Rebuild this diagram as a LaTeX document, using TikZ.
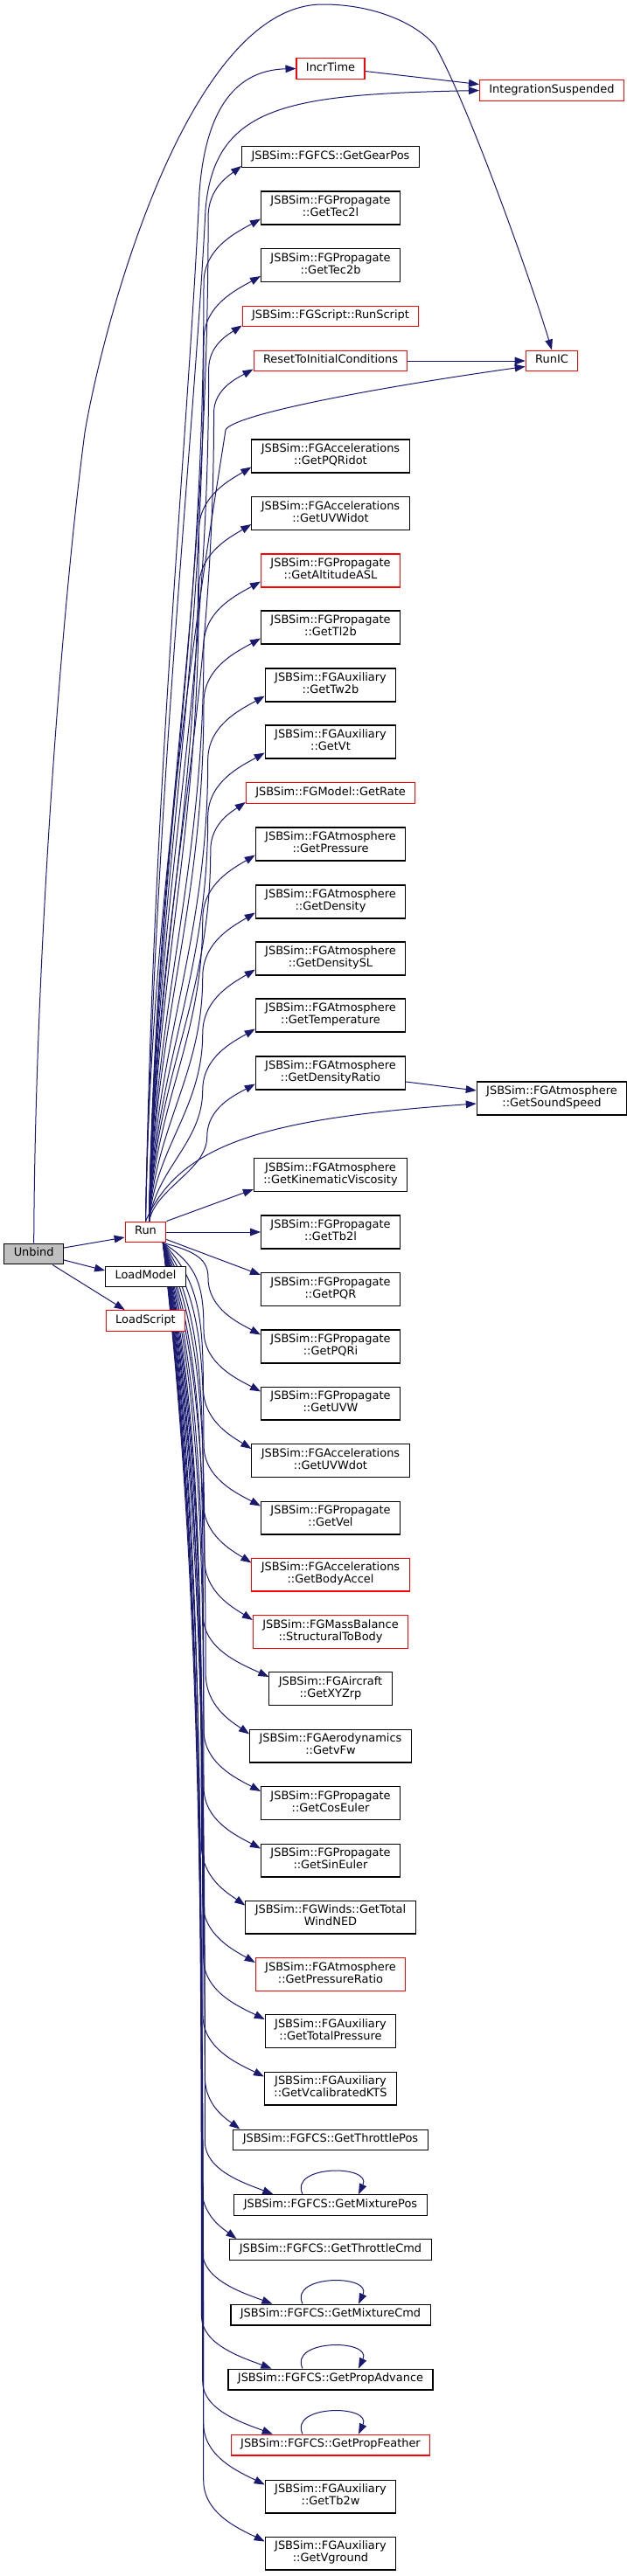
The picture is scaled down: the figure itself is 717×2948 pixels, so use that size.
\documentclass[tikz,border=0pt]{standalone}
\usepackage{fontspec}
\setmainfont{DejaVu Sans}
\usetikzlibrary{arrows.meta,calc}
\definecolor{edgeblue}{HTML}{191970}
\newcommand{\fnfont}{\fontsize{9.7}{10.7}\selectfont}
\pgfdeclarelayer{edges}
\pgfsetlayers{edges,main}

\begin{document}
\begin{tikzpicture}[x=0.75pt,y=-0.75pt,line width=0.8pt,>=Stealth]
\tikzset{fn/.style={draw=black,fill=white,align=center,inner xsep=8.2pt,inner ysep=3.6pt,
                    font=\fnfont,execute at begin node=\strut,execute at end node=\strut},
         fnred/.style={fn,draw=red},
         fncur/.style={fn,fill=gray!50},
         call/.style={draw=edgeblue,line width=0.75pt,-{Triangle[length=9pt,width=6.5pt]}}}
\useasboundingbox (0,0) rectangle (717,2948);
% ---------- caller and its direct callees on the left ----------
\node[fncur] (unbind) at (38.7,1435) {Unbind};
\node[fnred] (run) at (166.5,1410) {Run};
\node[fn] (loadModel) at (166.5,1461) {LoadModel};
\node[fnred] (loadScript) at (166.5,1511.5) {LoadScript};
% ---------- right column ----------
\node[fnred] (intSusp) at (631,103.5) {IntegrationSuspended};
\node[fnred] (runIC) at (631,413) {RunIC};
\node[fn] (soundSpeed) at (631,1257) {JSBSim::FGAtmosphere\\::GetSoundSpeed};
% ---------- middle column, above Run ----------
\node[fnred] (incrTime) at (378,78.5) {IncrTime};
\node[fn] (gearPos) at (378,179.5) {JSBSim::FGFCS::GetGearPos};
\node[fn] (tecTwoL) at (378,238) {JSBSim::FGPropagate\\::GetTec2l};
\node[fn] (tecTwoB) at (378,303.5) {JSBSim::FGPropagate\\::GetTec2b};
\node[fnred] (runScript) at (378,362) {JSBSim::FGScript::RunScript};
\node[fnred] (reset) at (378,413) {ResetToInitialConditions};
\node[fn] (pqrIdot) at (378,522) {JSBSim::FGAccelerations\\::GetPQRidot};
\node[fn] (uvwIdot) at (378,587.5) {JSBSim::FGAccelerations\\::GetUVWidot};
\node[fnred] (altASL) at (378,653) {JSBSim::FGPropagate\\::GetAltitudeASL};
\node[fn] (tlTwoB) at (378,718) {JSBSim::FGPropagate\\::GetTl2b};
\node[fn] (twTwoB) at (378,784) {JSBSim::FGAuxiliary\\::GetTw2b};
\node[fn] (vt) at (378,849) {JSBSim::FGAuxiliary\\::GetVt};
\node[fnred] (rate) at (378,907.5) {JSBSim::FGModel::GetRate};
\node[fn] (pressure) at (378,966) {JSBSim::FGAtmosphere\\::GetPressure};
\node[fn] (density) at (378,1032) {JSBSim::FGAtmosphere\\::GetDensity};
\node[fn] (densitySL) at (378,1097) {JSBSim::FGAtmosphere\\::GetDensitySL};
\node[fn] (temperature) at (378,1162) {JSBSim::FGAtmosphere\\::GetTemperature};
\node[fn] (densityRatio) at (378,1228) {JSBSim::FGAtmosphere\\::GetDensityRatio};
\node[fn] (kinVisc) at (378,1344.5) {JSBSim::FGAtmosphere\\::GetKinematicViscosity};
% ---------- middle column, level with and below Run ----------
\node[fn] (tbTwoL) at (378,1410) {JSBSim::FGPropagate\\::GetTb2l};
\node[fn] (pqr) at (378,1475.5) {JSBSim::FGPropagate\\::GetPQR};
\node[fn] (pqri) at (378,1541) {JSBSim::FGPropagate\\::GetPQRi};
\node[fn] (uvw) at (378,1606) {JSBSim::FGPropagate\\::GetUVW};
\node[fn] (uvwdot) at (378,1671.5) {JSBSim::FGAccelerations\\::GetUVWdot};
\node[fn] (vel) at (378,1737) {JSBSim::FGPropagate\\::GetVel};
\node[fnred] (bodyAccel) at (378,1802) {JSBSim::FGAccelerations\\::GetBodyAccel};
\node[fnred] (structToBody) at (378,1867.5) {JSBSim::FGMassBalance\\::StructuralToBody};
\node[fn] (xyzrp) at (378,1932.5) {JSBSim::FGAircraft\\::GetXYZrp};
\node[fn] (vfw) at (378,1998) {JSBSim::FGAerodynamics\\::GetvFw};
\node[fn] (cosEuler) at (378,2063.5) {JSBSim::FGPropagate\\::GetCosEuler};
\node[fn] (sinEuler) at (378,2129) {JSBSim::FGPropagate\\::GetSinEuler};
\node[fn] (totalWind) at (378,2194) {JSBSim::FGWinds::GetTotal\\WindNED};
\node[fnred] (pressureRatio) at (378,2259.5) {JSBSim::FGAtmosphere\\::GetPressureRatio};
\node[fn] (totalPressure) at (378,2324.5) {JSBSim::FGAuxiliary\\::GetTotalPressure};
\node[fn] (vcasKts) at (378,2390) {JSBSim::FGAuxiliary\\::GetVcalibratedKTS};
\node[fn] (throttlePos) at (378,2449) {JSBSim::FGFCS::GetThrottlePos};
\node[fn] (mixturePos) at (378,2523.5) {JSBSim::FGFCS::GetMixturePos};
\node[fn] (throttleCmd) at (378,2574.5) {JSBSim::FGFCS::GetThrottleCmd};
\node[fn] (mixtureCmd) at (378,2649) {JSBSim::FGFCS::GetMixtureCmd};
\node[fn] (propAdvance) at (378,2723) {JSBSim::FGFCS::GetPropAdvance};
\node[fnred] (propFeather) at (378,2798) {JSBSim::FGFCS::GetPropFeather};
\node[fn] (tbTwoW) at (378,2857) {JSBSim::FGAuxiliary\\::GetTb2w};
\node[fn] (vground) at (378,2922) {JSBSim::FGAuxiliary\\::GetVground};
\begin{pgfonlayer}{edges}
% ---------- calls made by Unbind ----------
\draw[call] ($(unbind.east)+(0,-7)$) -- ($(run.west)+(0,6)$);
\draw[call] ($(unbind.east)+(0,7)$) -- ($(loadModel.west)+(0,-7)$);
\draw[call] ($(unbind.south east)+(-13,0)$) -- ($(loadScript.north west)+(22,0)$);
\draw[call] (unbind.north) .. controls (40,1100) and (70,700) .. (97,495)
  .. controls (118,370) and (215,5) .. (369,5)
  .. controls (430,5) and (478,28) .. (498,53)
  .. controls (540,130) and (610,330) .. (runIC.north);
% ---------- calls from Run up the column ----------
\foreach \nd/\ey/\mx/\my in {gearPos/-2/-38/58,tecTwoL/-7/-65/73,tecTwoB/-7/-65/73,
    runScript/-2/-38/50,reset/-3/-45/50,pqrIdot/-7/-60/73,uvwIdot/-7/-60/73,
    altASL/-7/-65/73,tlTwoB/-7/-65/73,twTwoB/-7/-65/73,vt/-7/-65/73,rate/-2/-40/55,
    pressure/-7/-60/73,density/-7/-60/73,densitySL/-7/-60/73,temperature/-4/-60/70,
    densityRatio/-7/-55/60}
  \draw[call] let \p1=($(run.north)+(4,0)$), \p2=($(\nd.south west)+(0,\ey)$),
      \p3=($(\p2)+(\mx,\my)$) in
    (\p1) .. controls ({\x1+6pt},{0.6*(\y1)+0.4*(\y3)}) and (\x3,{0.4*(\y1)+0.6*(\y3)}) .. (\p3)
    .. controls (\x3,{0.45*(\y3)+0.55*(\y2)}) and ({0.6*(\x2)+0.4*(\x3)},{0.8*(\y2)+0.2*(\y3)}) .. (\p2);
\draw[call] (run.north) .. controls (175,900) and (215,500) .. (228,220)
  .. controls (236,110) and (280,80) .. (incrTime.west);
\draw[call] (run.north) .. controls (178,900) and (222,500) .. (235,240)
  .. controls (245,120) and (330,108) .. (intSusp.west);
\draw[call] (run.north) .. controls (172,1000) and (248,560) .. (258,492)
  .. controls (266,475) and (420,445) .. ($(runIC.south west)+(0,-6)$);
\draw[call] (run.north) .. controls (205,1310) and (300,1280) .. ($(soundSpeed.west)+(0,6)$);
\draw[call] (run.north east) -- ($(kinVisc.south west)+(0,-3)$);
\draw[call] (run.east) -- (tbTwoL.west);
\draw[call] ($(run.south east)+(0,-4)$) -- ($(pqr.north west)+(0,3)$);
% ---------- calls from Run down the column ----------
\foreach \nd/\ex/\ey/\mx/\my in {pqri/0/6/-60/-65,uvw/0/6/-65/-70,uvwdot/0/6/-55/-70,
    vel/0/6/-65/-70,bodyAccel/0/6/-55/-70,structToBody/0/6/-55/-70,xyzrp/0/6/-75/-70,
    vfw/0/6/-50/-70,cosEuler/0/6/-65/-70,sinEuler/0/6/-65/-70,totalWind/0/6/-50/-70,
    pressureRatio/0/6/-60/-70,totalPressure/0/6/-70/-70,vcasKts/0/6/-70/-70,
    throttlePos/8/0/-40/-60,mixturePos/45/0/-78/-60,throttleCmd/8/0/-40/-60,
    mixtureCmd/48/0/-80/-60,propAdvance/50/0/-80/-60,propFeather/48/0/-80/-60,
    tbTwoW/0/6/-70/-70,vground/0/6/-70/-70}
  \draw[call] let \p1=($(run.south east)+(-4,0)$), \p2=($(\nd.north west)+(\ex,\ey)$),
      \p3=($(\p2)+(\mx,\my)$) in
    (\p1) .. controls ({\x1+30pt},{0.75*(\y1)+0.25*(\y3)}) and (\x3,{0.5*(\y1)+0.5*(\y3)}) .. (\p3)
    .. controls (\x3,{0.45*(\y3)+0.55*(\y2)}) and ({0.6*(\x2)+0.4*(\x3)},{0.8*(\y2)+0.2*(\y3)}) .. (\p2);
% ---------- other calls ----------
\draw[call] ($(incrTime.east)+(0,3)$) -- ($(intSusp.west)+(0,-7)$);
\draw[call] (reset.east) -- (runIC.west);
\draw[call] ($(densityRatio.east)+(0,10)$) -- ($(soundSpeed.west)+(0,-9)$);
\foreach \nd in {mixturePos,mixtureCmd,propAdvance,propFeather}
  \draw[call] ($(\nd.north)+(-32,0)$) .. controls +(-16,-34) and +(16,-34) .. ($(\nd.north)+(32,0)$);
\end{pgfonlayer}
\end{tikzpicture}
\end{document}
